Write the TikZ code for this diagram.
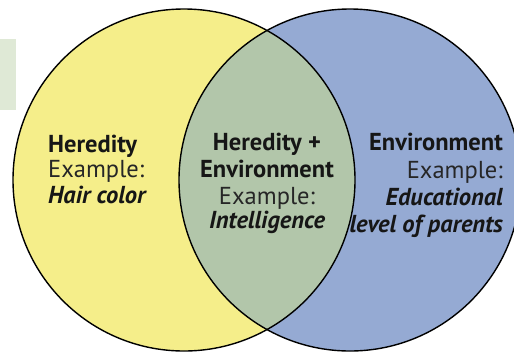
\documentclass[tikz,border=0pt]{standalone}
\usepackage{fontspec}
\setmainfont{PT Sans}
\definecolor{herecol}{HTML}{F5EE8A}
\definecolor{envcol}{HTML}{95AAD3}
\definecolor{bothcol}{HTML}{B2C6AA}
\definecolor{tabcol}{HTML}{DFE9D6}
\definecolor{inkcol}{HTML}{161616}
\definecolor{excol}{HTML}{262626}
\begin{document}
\begin{tikzpicture}[x=1pt,y=-1pt,
  lbl/.style={inner sep=0pt, text=inkcol, font=\fontsize{24.5}{28}\selectfont},
  head/.style={lbl, font=\fontsize{24.5}{28}\selectfont\bfseries},
  ex/.style={lbl, text=excol},
  case/.style={lbl, font=\fontsize{24.5}{28}\selectfont\bfseries\itshape},
  rim/.style={draw=black, line width=1.4pt}]
\useasboundingbox (0,0) rectangle (514,354);
\clip (0,0) rectangle (514,354);
% small tab at the left margin
\fill[tabcol] (0,39) rectangle (16,110);
% the two sets and their overlap
\coordinate (hc) at (184,180);
\coordinate (ec) at (350,180);
\fill[herecol] (hc) circle (171);
\fill[envcol] (ec) circle (171);
\begin{scope}
  \clip (hc) circle (171);
  \fill[bothcol] (ec) circle (171);
\end{scope}
\draw[rim] (hc) circle (171);
\draw[rim] (ec) circle (171);
% heredity only
\node[head, anchor=base west] (h1) at (48,152) {Heredity};
\node[ex,   anchor=base west] (h2) at (48,177) {Example:};
\node[case, anchor=base west] (h3) at (48,203) {Hair color};
% both
\node[head, anchor=base] (b1) at (267,150) {Heredity +};
\node[head, anchor=base] (b2) at (267,177) {Environment};
\node[ex,   anchor=base] (b3) at (267,204) {Example:};
\node[case, anchor=base] (b4) at (267,228) {Intelligence};
% environment only
\node[head, anchor=base east] (e1) at (503,150) {Environment};
\node[ex,   anchor=base east] (e2) at (503,178) {Example:};
\node[case, anchor=base east] (e3) at (503,205) {Educational};
\node[case, anchor=base east] (e4) at (503,232) {level of parents};
\end{tikzpicture}
\end{document}
